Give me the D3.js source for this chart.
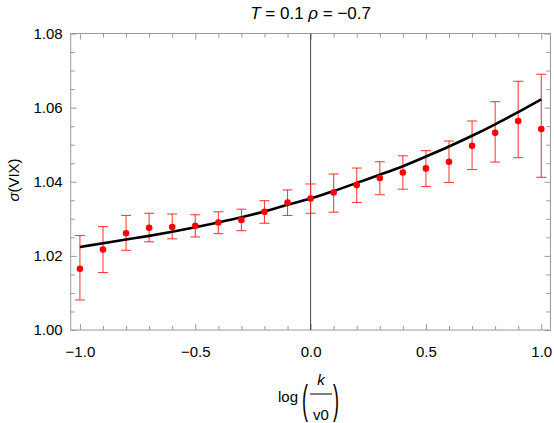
<!DOCTYPE html>
<html>
<head>
<meta charset="utf-8">
<script src="https://d3js.org/d3.v7.min.js"></script>
<style>
  body {margin: 0; background: #fff;}
  text {font-family: "Liberation Sans", Arial, sans-serif; fill: #000;}
  .tick text {font-size: 15px;}
</style>
</head>
<body>
<svg id="chart" width="554" height="423"></svg>
<script>
// log(k/v0) grid
var xs = [-1.0, -0.9, -0.8, -0.7, -0.6, -0.5, -0.4, -0.3, -0.2, -0.1, 0.0,
          0.1, 0.2, 0.3, 0.4, 0.5, 0.6, 0.7, 0.8, 0.9, 1.0];
// simulated sigma(VIX) with error bar ends
var mean = [1.0165, 1.0217, 1.0261, 1.0276, 1.0278, 1.0281, 1.0290, 1.0297, 1.0319, 1.0344, 1.0355,
            1.0371, 1.0391, 1.0410, 1.0425, 1.0436, 1.0454, 1.0497, 1.0532, 1.0564, 1.0542];
var upper = [1.0255, 1.0279, 1.0309, 1.0315, 1.0313, 1.0311, 1.0319, 1.0326, 1.0349, 1.0378, 1.0394,
             1.0421, 1.0437, 1.0454, 1.0470, 1.0484, 1.0510, 1.0564, 1.0616, 1.0671, 1.0690];
var lower = [1.0081, 1.0155, 1.0215, 1.0238, 1.0246, 1.0251, 1.0260, 1.0268, 1.0288, 1.0309, 1.0315,
             1.0318, 1.0344, 1.0365, 1.0380, 1.0387, 1.0398, 1.0433, 1.0453, 1.0465, 1.0412];
// model curve
var model = [1.0224, 1.0234, 1.0244, 1.0254, 1.0265, 1.0277, 1.0290, 1.0304, 1.0320, 1.0338, 1.0355,
             1.0375, 1.0397, 1.0419, 1.0442, 1.0468, 1.0495, 1.0524, 1.0555, 1.0588, 1.0622];

var xMajor = [-1.0, -0.5, 0.0, 0.5, 1.0];
var xMinor = d3.range(-10, 11).map(function(i) { return i / 10; });
var yMajor = [1.00, 1.02, 1.04, 1.06, 1.08];
var yMinor = d3.range(0, 17).map(function(i) { return 1 + i * 0.005; });

var svg = d3.select("#chart"),
    margin = {top: 33.5, right: 3.5, bottom: 93, left: 70.7},
    width = 554 - margin.left - margin.right,
    height = 423 - margin.top - margin.bottom,
    g = svg.append("g").attr("transform", "translate(" + margin.left + "," + margin.top + ")");

var x = d3.scaleLinear().domain([-1.04, 1.04]).range([0, width]);
var y = d3.scaleLinear().domain([1.0, 1.08]).range([height, 0]);

var frameColor = "#999";

// frame
g.append("rect")
    .attr("width", width).attr("height", height)
    .attr("fill", "none").attr("stroke", frameColor).attr("stroke-width", 1);

// ticks, all sides, pointing inward
function drawTicks(axisFn, scale, vals, size, transform, labels) {
  var a = g.append("g")
      .attr("transform", transform)
      .call(axisFn(scale).tickValues(vals).tickSizeInner(size).tickSizeOuter(0)
        .tickFormat(labels ? d3.format(labels) : ""));
  a.select(".domain").remove();
  a.selectAll("line").attr("stroke", frameColor);
  return a;
}

// bottom: labels with outward padding, ticks inward
var bx = drawTicks(d3.axisBottom, x, xMajor, -6, "translate(0," + height + ")", ".1f");
bx.selectAll("text").attr("y", 16).attr("dy", "0.71em").text(function(d) { return d3.format(".1f")(d).replace("-", "\u2212"); });
drawTicks(d3.axisBottom, x, xMinor.filter(function(v) { return xMajor.indexOf(v) < 0; }), -4, "translate(0," + height + ")", null);
drawTicks(d3.axisTop, x, xMajor, -6, "translate(0,0)", null);
drawTicks(d3.axisTop, x, xMinor.filter(function(v) { return xMajor.indexOf(v) < 0; }), -4, "translate(0,0)", null);

var ly = drawTicks(d3.axisLeft, y, yMajor, -6, "translate(0,0)", ".2f");
ly.selectAll("text").attr("x", -8);
drawTicks(d3.axisLeft, y, yMinor.filter(function(v, i) { return i % 4 !== 0; }), -4, "translate(0,0)", null);
drawTicks(d3.axisRight, y, yMajor, -6, "translate(" + width + ",0)", null);
drawTicks(d3.axisRight, y, yMinor.filter(function(v, i) { return i % 4 !== 0; }), -4, "translate(" + width + ",0)", null);

// vertical line at x = 0
g.append("line")
    .attr("x1", x(0)).attr("x2", x(0))
    .attr("y1", 0).attr("y2", height)
    .attr("stroke", "#444").attr("stroke-width", 1);

var pts = xs.map(function(v, i) { return {x: v, m: mean[i], hi: upper[i], lo: lower[i], c: model[i]}; });

// error bars
var eb = g.append("g").attr("stroke", "#ff2020").attr("stroke-opacity", 0.85).attr("stroke-width", 1.1);
eb.selectAll(".v").data(pts).enter().append("line")
    .attr("x1", function(d) { return x(d.x); }).attr("x2", function(d) { return x(d.x); })
    .attr("y1", function(d) { return y(d.hi); }).attr("y2", function(d) { return y(d.lo); });
eb.selectAll(".t").data(pts).enter().append("line")
    .attr("x1", function(d) { return x(d.x) - 5; }).attr("x2", function(d) { return x(d.x) + 5; })
    .attr("y1", function(d) { return y(d.hi); }).attr("y2", function(d) { return y(d.hi); });
eb.selectAll(".b").data(pts).enter().append("line")
    .attr("x1", function(d) { return x(d.x) - 5; }).attr("x2", function(d) { return x(d.x) + 5; })
    .attr("y1", function(d) { return y(d.lo); }).attr("y2", function(d) { return y(d.lo); });

// model curve
var line = d3.line()
    .x(function(d) { return x(d.x); })
    .y(function(d) { return y(d.c); })
    .curve(d3.curveMonotoneX);
g.append("path").datum(pts)
    .attr("d", line)
    .attr("fill", "none").attr("stroke", "#000").attr("stroke-width", 2.6);

// points
g.selectAll(".dot").data(pts).enter().append("circle")
    .attr("cx", function(d) { return x(d.x); })
    .attr("cy", function(d) { return y(d.m); })
    .attr("r", 3.3)
    .attr("fill", "#ff0000");

// title
var title = svg.append("text")
    .attr("x", margin.left + width / 2).attr("y", 19)
    .attr("text-anchor", "middle").attr("font-size", 17);
title.append("tspan").attr("font-style", "italic").text("T");
title.append("tspan").text(" = 0.1 ");
title.append("tspan").attr("font-style", "italic").text("\u03c1");
title.append("tspan").text(" = \u22120.7");

// y label
svg.append("text")
    .attr("transform", "translate(19,180) rotate(-90)")
    .attr("text-anchor", "middle").attr("font-size", 15)
    .html('<tspan font-style="italic">\u03c3</tspan>(VIX)');

// x label: log(k / v0)
var xl = svg.append("g").attr("font-size", 15);
xl.append("text").attr("x", 278).attr("y", 402).attr("font-size", 15).text("log");
xl.append("text").attr("transform", "translate(302,414) scale(1,2.3)").attr("font-size", 18).text("(");
xl.append("text").attr("transform", "translate(333,414) scale(1,2.3)").attr("font-size", 18).text(")");
xl.append("text").attr("x", 321).attr("y", 385).attr("text-anchor", "middle").attr("font-style", "italic").text("k");
xl.append("line").attr("x1", 310).attr("x2", 332).attr("y1", 394).attr("y2", 394).attr("stroke", "#000").attr("stroke-width", 1);
xl.append("text").attr("x", 321).attr("y", 420).attr("text-anchor", "middle").text("v0");
</script>
</body>
</html>
